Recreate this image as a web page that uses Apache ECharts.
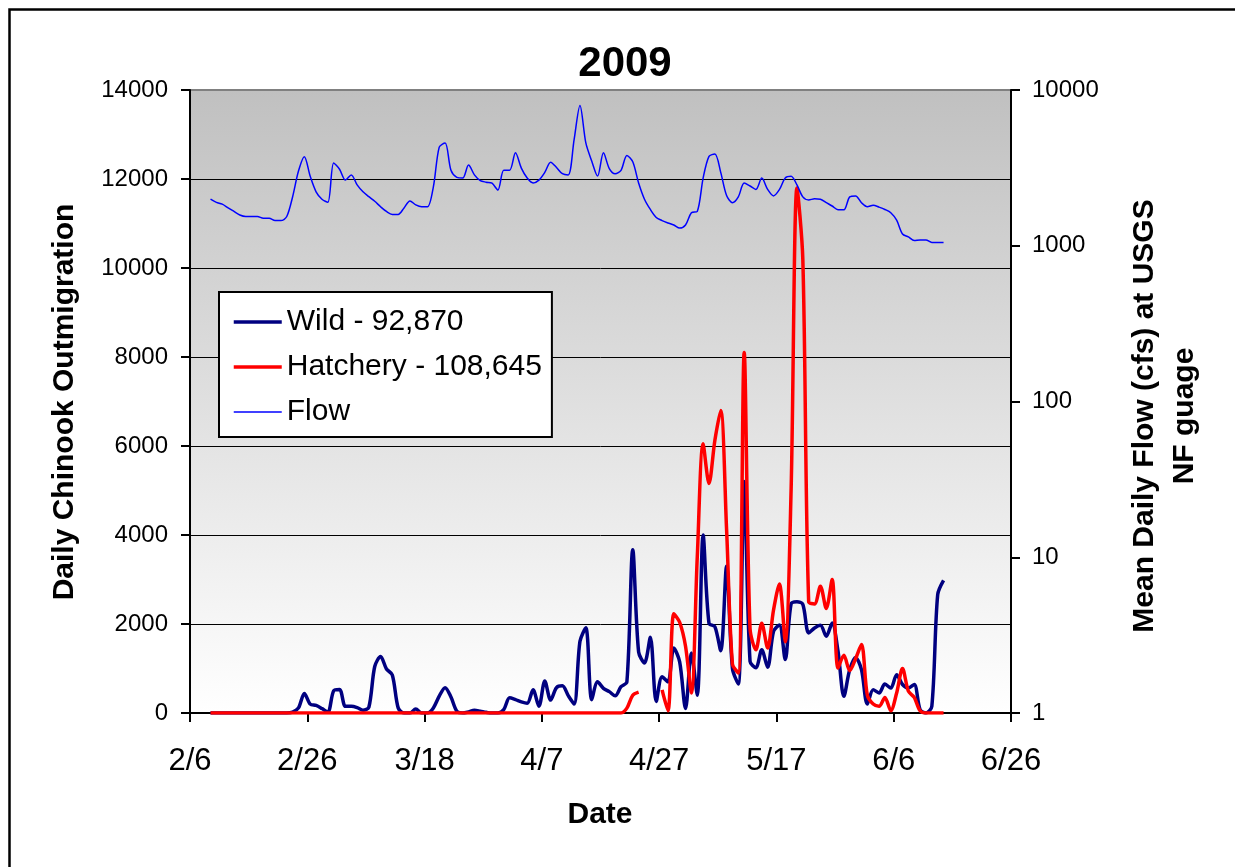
<!DOCTYPE html>
<html>
<head>
<meta charset="utf-8">
<title>2009 Chinook outmigration</title>
<script src="https://cdn.jsdelivr.net/npm/echarts@6/dist/echarts.min.js"></script>
<style>
  * { margin: 0; padding: 0; }
  body { background: #fff; }
  #chart { width: 1235px; height: 867px; }
</style>
</head>
<body>
<div id="chart"></div>
<script>
// axis runs 2/6 .. 6/26 2009, ticks every 20 days
const axisStart = '2/6';
const axisEnd = '6/26';
const tickDays = 20;
// daily samples start here, one value per day
const firstSample = '2/9';

// daily wild catch, 2/9 .. 6/14
const wild = [
  0, 0, 0, 0, 0, 0, 0, 0, 0, 0, 0, 0, 0, 0,
  20, 115, 440, 200, 170, 100, 20, 500, 530, 150,
  150, 120, 60, 130, 1045, 1270, 990, 855, 115, 0,
  0, 90, 0, 0, 115, 380, 570, 360, 40, 0,
  25, 60, 40, 15, 0, 0, 75, 340, 300, 250,
  220, 520, 150, 720, 290, 570, 610, 390, 200, 1610,
  1915, 300, 700, 555, 480, 385, 590, 700, 3670, 1370,
  1125, 1700, 260, 815, 700, 1460, 1150, 100, 1350, 400,
  4000, 2015, 1940, 1400, 3300, 1000, 650, 5200, 1160, 1015,
  1420, 1030, 1830, 1980, 1200, 2450, 2500, 2440, 1800, 1910,
  1970, 1725, 2025, 1390, 375, 975, 1250, 975, 200, 525,
  450, 650, 560, 860, 640, 560, 640, 75, 0, 150,
  2660, 2980
];

// daily hatchery catch, 2/9 .. 6/14 (null = no record)
const hatchery = [
  0, 0, 0, 0, 0, 0, 0, 0, 0, 0, 0, 0, 0, 0, 0, 0, 0, 0, 0, 0,
  0, 0, 0, 0, 0, 0, 0, 0, 0, 0, 0, 0, 0, 0, 0, 0, 0, 0, 0, 0,
  0, 0, 0, 0, 0, 0, 0, 0, 0, 0, 0, 0, 0, 0, 0, 0, 0, 0, 0, 0,
  0, 0, 0, 0, 0, 0, 0, 0, 0, 0, 0,
  110, 400, 470, null, null, null, 520, 50, 2230, 2040,
  1500, 450, 3500, 6050, 5160, 6125, 6800, 4125, 1100, 900,
  8100, 1900, 1420, 2015, 1460, 2310, 2900, 1600, 5000, 11800,
  10200, 2500, 2450, 2850, 2350, 3000, 1010, 1300, 950, 1220,
  1540, 400, 200, 150, 350, 50, 450, 1000, 490, 350,
  50, 0, 0, 0, 0
];

// mean daily flow (cfs), 2/9 .. 6/14
const flow = [
  1990, 1900, 1850, 1750, 1660, 1575, 1540, 1540, 1540, 1500,
  1500, 1450, 1450, 1540, 2065, 3020, 3730, 2790, 2220, 1990,
  1900, 3400, 3100, 2640, 2850, 2460, 2220, 2065, 1930, 1780,
  1660, 1590, 1590, 1750, 1940, 1830, 1780, 1780, 2390, 4300,
  4570, 3050, 2750, 2720, 3300, 2850, 2620, 2560, 2520, 2280,
  3050, 3050, 3950, 3150, 2720, 2530, 2640, 2960, 3440, 3180,
  2900, 2850, 4800, 7950, 4570, 3500, 2800, 3950, 3130, 2900,
  3050, 3800, 3460, 2530, 1990, 1710, 1520, 1450, 1400, 1360,
  1300, 1360, 1630, 1660, 2720, 3750, 3880, 2960, 2100, 1890,
  2060, 2530, 2420, 2300, 2720, 2300, 2090, 2290, 2720, 2790,
  2460, 2060, 1970, 2000, 1990, 1890, 1800, 1700, 1700, 2060,
  2090, 1890, 1780, 1820, 1770, 1710, 1630, 1460, 1190, 1140,
  1080, 1090, 1090, 1050, 1050, 1050
];

const wildName = 'Wild - 92,870';
const hatcheryName = 'Hatchery - 108,645';
const flowName = 'Flow';

// days since axisStart
function dayOf(md) {
  const p = md.split('/');
  const a = axisStart.split('/');
  return (Date.UTC(2009, +p[0] - 1, +p[1]) - Date.UTC(2009, +a[0] - 1, +a[1])) / 86400000;
}
function labelOf(d) {
  const a = axisStart.split('/');
  const t = new Date(Date.UTC(2009, +a[0] - 1, +a[1] + d));
  return (t.getUTCMonth() + 1) + '/' + t.getUTCDate();
}
// Excel date axis: each day's point sits in the middle of its day
const d0 = dayOf(firstSample);
const toPairs = arr => arr.map((v, i) => [d0 + i + 0.5, v]);

const font = '"Liberation Sans", Arial, sans-serif';
const black = '#000';
const wildColor = '#000080';
const hatcheryColor = '#FF0000';
const flowColor = '#0000FF';

const chart = echarts.init(document.getElementById('chart'), null, { renderer: 'canvas' });

const option = {
  animation: false,
  backgroundColor: '#fff',
  grid: {
    left: 190, top: 90, width: 821, height: 623,
    show: true,
    borderColor: '#808080',
    borderWidth: 2,
    backgroundColor: {
      type: 'linear', x: 0, y: 0, x2: 0, y2: 1,
      colorStops: [{ offset: 0, color: '#C0C0C0' }, { offset: 1, color: '#FFFFFF' }]
    }
  },
  legend: {
    orient: 'vertical',
    left: 219, top: 292,
    padding: [15, 10, 10, 13],
    itemGap: 15,
    itemWidth: 48,
    itemHeight: 14,
    backgroundColor: '#fff',
    borderColor: black,
    borderWidth: 2,
    // line only, no marker dot
    itemStyle: { opacity: 0 },
    textStyle: { fontFamily: font, fontSize: 30, lineHeight: 30, color: black },
    data: [
      { name: wildName, lineStyle: { color: wildColor, width: 3.5 } },
      { name: hatcheryName, lineStyle: { color: hatcheryColor, width: 3.5 } },
      { name: flowName, lineStyle: { color: flowColor, width: 1.5 } }
    ]
  },
  xAxis: {
    type: 'value',
    min: dayOf(axisStart),
    max: dayOf(axisEnd),
    interval: tickDays,
    axisLine: { show: true, onZero: false, lineStyle: { color: black, width: 2 } },
    axisTick: { show: true, inside: false, length: 9, lineStyle: { color: black, width: 2 } },
    splitLine: { show: false },
    axisLabel: {
      margin: 33, color: black, fontFamily: font, fontSize: 31,
      formatter: v => labelOf(v)
    }
  },
  yAxis: [
    {
      type: 'value',
      min: 0, max: 14000, interval: 2000,
      axisLine: { show: true, lineStyle: { color: black, width: 2 } },
      axisTick: { show: true, inside: false, length: 9, lineStyle: { color: black, width: 2 } },
      splitLine: {
        show: true,
        lineStyle: { color: [black, black, black, black, black, black, black, 'rgba(0,0,0,0)'], width: 1 }
      },
      axisLabel: { margin: 22, color: black, fontFamily: font, fontSize: 24, formatter: v => String(v) }
    },
    {
      type: 'log',
      logBase: 10,
      min: 1, max: 10000,
      position: 'right',
      axisLine: { show: true, lineStyle: { color: black, width: 2 } },
      axisTick: { show: true, inside: false, length: 9, lineStyle: { color: black, width: 2 } },
      minorTick: { show: false },
      splitLine: { show: false },
      axisLabel: { margin: 21, color: black, fontFamily: font, fontSize: 24, formatter: v => String(Math.round(v)) }
    }
  ],
  series: [
    {
      name: wildName, type: 'line', yAxisIndex: 0,
      data: toPairs(wild),
      symbol: 'none', smooth: 0.3,
      lineStyle: { color: wildColor, width: 3.5 },
      itemStyle: { color: wildColor }
    },
    {
      name: hatcheryName, type: 'line', yAxisIndex: 0,
      data: toPairs(hatchery),
      symbol: 'none', smooth: 0.3, connectNulls: false,
      lineStyle: { color: hatcheryColor, width: 3.5 },
      itemStyle: { color: hatcheryColor }
    },
    {
      name: flowName, type: 'line', yAxisIndex: 1,
      data: toPairs(flow),
      symbol: 'none', smooth: 0.3,
      lineStyle: { color: flowColor, width: 1.5 },
      itemStyle: { color: flowColor }
    }
  ],
  graphic: [
    {
      type: 'rect', silent: true, z: 100,
      shape: { x: 9.5, y: 9.5, width: 1400, height: 1000 },
      style: { fill: 'none', stroke: black, lineWidth: 2.5 }
    },
    {
      type: 'text', x: 625, y: 64, z: 100,
      style: { text: '2009', font: 'bold 42px ' + font, fill: black,
        align: 'center', verticalAlign: 'middle', textAlign: 'center', textVerticalAlign: 'middle' }
    },
    {
      type: 'text', x: 600, y: 815, z: 100,
      style: { text: 'Date', font: 'bold 30px ' + font, fill: black,
        align: 'center', verticalAlign: 'middle', textAlign: 'center', textVerticalAlign: 'middle' }
    },
    {
      type: 'text', x: 65, y: 402, rotation: Math.PI / 2, z: 100,
      style: { text: 'Daily Chinook Outmigration', font: 'bold 30px ' + font, fill: black,
        align: 'center', verticalAlign: 'middle', textAlign: 'center', textVerticalAlign: 'middle' }
    },
    {
      type: 'text', x: 1165, y: 416, rotation: Math.PI / 2, z: 100,
      style: { text: 'Mean Daily Flow (cfs) at USGS\nNF guage', font: 'bold 30px ' + font, fill: black,
        lineHeight: 40,
        align: 'center', verticalAlign: 'middle', textAlign: 'center', textVerticalAlign: 'middle' }
    }
  ]
};

chart.setOption(option);
</script>
</body>
</html>
